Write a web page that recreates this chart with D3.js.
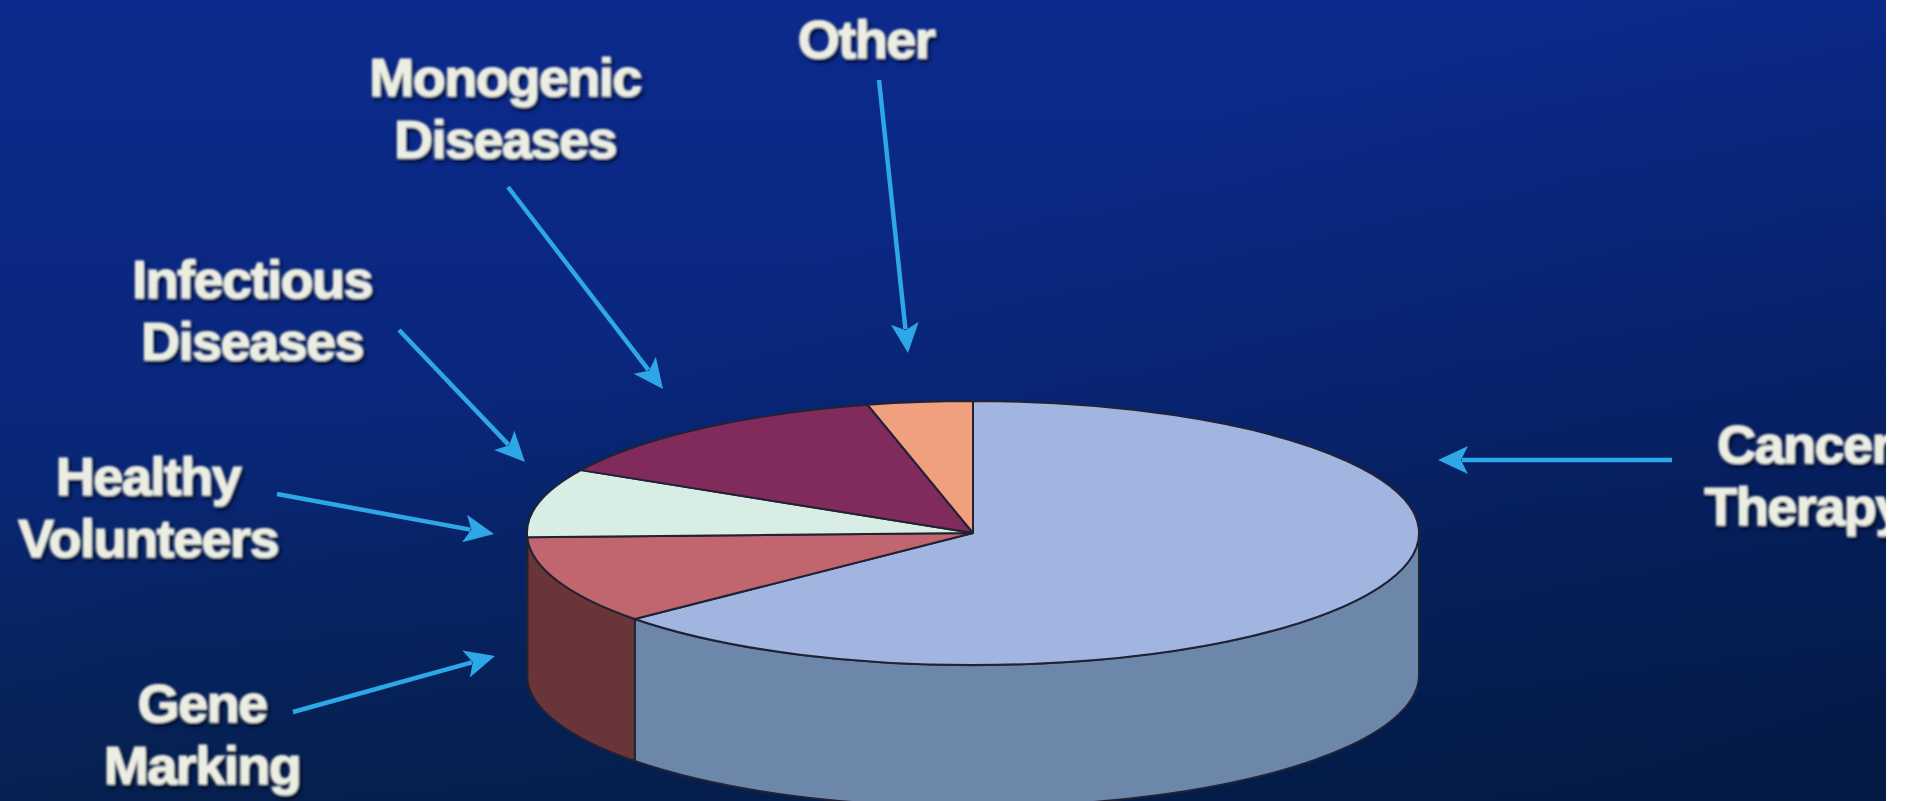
<!DOCTYPE html>
<html>
<head>
<meta charset="utf-8">
<script src="https://cdn.jsdelivr.net/npm/d3@7"></script>
<style>
  html, body { margin: 0; padding: 0; background: #fff; overflow: hidden; }
  svg { display: block; }
</style>
</head>
<body>
<div id="chart"></div>
<script>
// data (share of protocols, %)
const categories = ["Cancer Therapy", "Gene Marking", "Healthy Volunteers", "Monogenic Diseases", "Other"];
const values = [63.7, 10.8, 8.4, 13.3, 3.8];
const labelLines = [["Cancer", "Therapy"], ["Gene", "Marking"], ["Healthy", "Volunteers"], ["Monogenic", "Diseases"], ["Other"]];
const extraLabels = [["Infectious", "Diseases"]];

// colours
const topColors = ["#a2b5e1", "#c1666e", "#d8ede3", "#812a5b", "#f1a07f"];
const sideColors = ["#6d87aa", "#6a3438", "#8ea298", "#4d1a37", "#9a5f4a"];

// setting variables
const W = 1906, H = 801,
  cx = 973, cy = 533, rx = 446, ry = 132, depth = 142;

const svg = d3.select("#chart")
  .append("svg")
  .attr("width", W)
  .attr("height", H);

const defs = svg.append("defs");

// background gradients
const bg = defs.append("linearGradient").attr("id", "bg")
  .attr("x1", 0).attr("y1", 0).attr("x2", 0).attr("y2", 1);
bg.append("stop").attr("offset", 0).attr("stop-color", "#0b2a8d");
bg.append("stop").attr("offset", 0.5).attr("stop-color", "#09277c");
bg.append("stop").attr("offset", 1).attr("stop-color", "#072456");

const shade = defs.append("linearGradient").attr("id", "shade")
  .attr("x1", 0.1).attr("y1", 0).attr("x2", 0.9).attr("y2", 1);
shade.append("stop").attr("offset", 0.35).attr("stop-color", "#001235").attr("stop-opacity", 0);
shade.append("stop").attr("offset", 1).attr("stop-color", "#001235").attr("stop-opacity", 0.55);

// soft text with a dark shadow
const f = defs.append("filter").attr("id", "txt")
  .attr("x", "-10%").attr("y", "-30%").attr("width", "130%").attr("height", "170%");
f.append("feGaussianBlur").attr("in", "SourceAlpha").attr("stdDeviation", 2).attr("result", "b");
f.append("feOffset").attr("in", "b").attr("dx", 2).attr("dy", 3).attr("result", "o");
f.append("feFlood").attr("flood-color", "#00061c").attr("flood-opacity", 0.9);
f.append("feComposite").attr("in2", "o").attr("operator", "in").attr("result", "s");
f.append("feGaussianBlur").attr("in", "SourceGraphic").attr("stdDeviation", 0.8).attr("result", "g");
const fm = f.append("feMerge");
fm.append("feMergeNode").attr("in", "s");
fm.append("feMergeNode").attr("in", "g");

const soft = defs.append("filter").attr("id", "soft");
soft.append("feGaussianBlur").attr("stdDeviation", 0.7);

svg.append("rect").attr("width", W).attr("height", H).attr("fill", "url(#bg)");
svg.append("rect").attr("width", W).attr("height", H).attr("fill", "url(#shade)");

// pie layout, angles clockwise from 12 o'clock
const pie = d3.pie().sort(null).value(d => d)(values);

const px = a => cx + rx * Math.sin(a),
  py = a => cy - ry * Math.cos(a);

const pieG = svg.append("g").attr("filter", "url(#soft)");

// side walls: only the front half is visible
const front = pie.map((d, i) => {
  const a0 = Math.max(d.startAngle, Math.PI / 2),
    a1 = Math.min(d.endAngle, 3 * Math.PI / 2);
  return { i, a0, a1 };
}).filter(d => d.a1 > d.a0);

pieG.selectAll("path.side")
  .data(front)
  .enter()
  .append("path")
  .attr("class", "side")
  .attr("d", d => {
    const big = d.a1 - d.a0 > Math.PI ? 1 : 0;
    return `M${px(d.a0)},${py(d.a0)}` +
      `A${rx},${ry} 0 ${big} 1 ${px(d.a1)},${py(d.a1)}` +
      `L${px(d.a1)},${py(d.a1) + depth}` +
      `A${rx},${ry} 0 ${big} 0 ${px(d.a0)},${py(d.a0) + depth}Z`;
  })
  .attr("fill", d => sideColors[d.i])
  .attr("stroke", "#222236")
  .attr("stroke-width", 2)
  .attr("stroke-linejoin", "round");

// top face slices
pieG.selectAll("path.top")
  .data(pie)
  .enter()
  .append("path")
  .attr("class", "top")
  .attr("d", d => {
    const big = d.endAngle - d.startAngle > Math.PI ? 1 : 0;
    return `M${cx},${cy}L${px(d.startAngle)},${py(d.startAngle)}` +
      `A${rx},${ry} 0 ${big} 1 ${px(d.endAngle)},${py(d.endAngle)}Z`;
  })
  .attr("fill", (d, i) => topColors[i])
  .attr("stroke", "#222236")
  .attr("stroke-width", 2)
  .attr("stroke-linejoin", "round");

// label layout: text centre, first baseline, arrow from -> tip
const layout = [
  { lines: labelLines[0], x: 1804, y: 463, from: [1672, 460], to: [1438, 460] },
  { lines: labelLines[1], x: 202, y: 722, from: [293, 712], to: [495, 656] },
  { lines: labelLines[2], x: 148, y: 495, from: [277, 494], to: [494, 534] },
  { lines: labelLines[3], x: 505, y: 96, from: [508, 187], to: [663, 389] },
  { lines: labelLines[4], x: 866, y: 58, from: [879, 80], to: [908, 353] },
  { lines: extraLabels[0], x: 252, y: 298, from: [399, 330], to: [525, 462] }
];

// arrows
const arrowColor = "#2fa7e6", headLen = 30, headHalf = 14;
const arrows = svg.append("g").attr("filter", "url(#soft)");
layout.forEach(d => {
  const [x0, y0] = d.from, [x1, y1] = d.to;
  const ang = Math.atan2(y1 - y0, x1 - x0);
  const ux = Math.cos(ang), uy = Math.sin(ang);
  arrows.append("line")
    .attr("x1", x0).attr("y1", y0)
    .attr("x2", x1 - ux * (headLen - 6)).attr("y2", y1 - uy * (headLen - 6))
    .attr("stroke", arrowColor)
    .attr("stroke-width", 4.5);
  arrows.append("path")
    .attr("d", `M0,0L${-headLen},${-headHalf}L${-headLen + 7},0L${-headLen},${headHalf}Z`)
    .attr("transform", `translate(${x1},${y1}) rotate(${ang * 180 / Math.PI})`)
    .attr("fill", arrowColor);
});

// labels
const labels = svg.append("g")
  .attr("font-family", "'Liberation Sans', Arial, Helvetica, sans-serif")
  .attr("font-weight", "bold")
  .attr("font-size", 54)
  .attr("letter-spacing", -1.5)
  .attr("fill", "#eceee3")
  .attr("stroke", "#eceee3")
  .attr("stroke-width", 1.2)
  .attr("text-anchor", "middle")
  .attr("filter", "url(#txt)");

labels.selectAll("text")
  .data(layout)
  .enter()
  .append("text")
  .attr("x", d => d.x)
  .attr("y", d => d.y)
  .selectAll("tspan")
  .data(d => d.lines.map((t, i) => ({ t, i, x: d.x })))
  .enter()
  .append("tspan")
  .attr("x", d => d.x)
  .attr("dy", d => d.i === 0 ? 0 : 62)
  .text(d => d.t);

// slide edge: white border on the right
svg.append("rect").attr("x", 1886).attr("y", 0).attr("width", W - 1886).attr("height", H).attr("fill", "#fff");
</script>
</body>
</html>
